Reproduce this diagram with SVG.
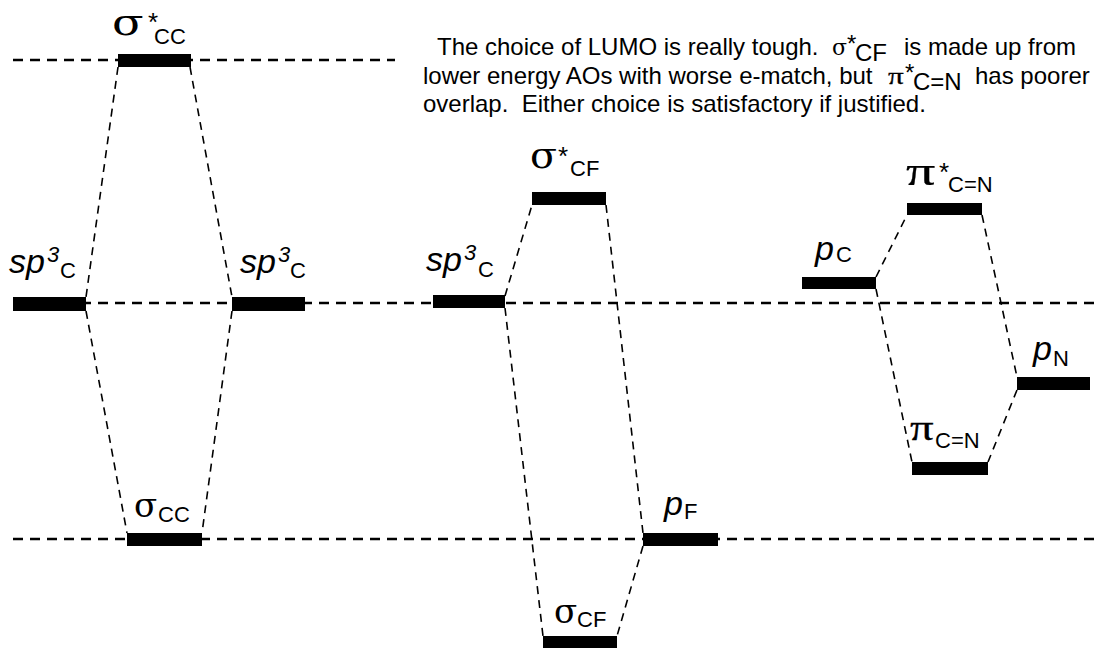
<svg xmlns="http://www.w3.org/2000/svg" width="1094" height="650" viewBox="0 0 1094 650">
<style>
.lvl{stroke:#000;stroke-width:2.5;stroke-dasharray:10 7;fill:none}
.con{stroke:#000;stroke-width:1.6;stroke-dasharray:8 6;fill:none}
.bar{fill:#000}
.t{font-family:"Liberation Sans",Arial,sans-serif;fill:#000}
.g{font-family:"DejaVu Serif","Liberation Serif",serif;fill:#000}
.pi{font-family:"Liberation Serif","Times New Roman",serif;fill:#000;stroke:#000;stroke-width:0.25}
.it{font-style:italic}
.para{font-family:"Liberation Sans",Arial,sans-serif;font-size:24px;fill:#000;white-space:pre}
</style>
<rect width="1094" height="650" fill="#fff"/>
<g id="levels">
<line class="lvl" x1="13" y1="60" x2="395" y2="60"/>
<line class="lvl" x1="13" y1="303" x2="1094" y2="303"/>
<line class="lvl" x1="13" y1="539" x2="1094" y2="539"/>
</g>
<g id="connectors">
<line class="con" x1="118" y1="67" x2="86" y2="297"/>
<line class="con" x1="190" y1="67" x2="232" y2="297"/>
<line class="con" x1="86" y1="311" x2="127" y2="533"/>
<line class="con" x1="232" y1="311" x2="202" y2="533"/>
<line class="con" x1="505" y1="296" x2="532" y2="205"/>
<line class="con" x1="505" y1="308" x2="543" y2="636"/>
<line class="con" x1="606" y1="205" x2="643" y2="533"/>
<line class="con" x1="643" y1="546" x2="617" y2="636"/>
<line class="con" x1="876" y1="277" x2="907" y2="215"/>
<line class="con" x1="876" y1="289" x2="912" y2="462"/>
<line class="con" x1="982" y1="215" x2="1017" y2="377"/>
<line class="con" x1="1017" y1="390" x2="988" y2="462"/>
</g>
<g id="sigma-star-CC">
<rect class="bar" x="118" y="54" width="73" height="13"/>
<text class="g" transform="translate(112,35) scale(1.22,1)" font-size="38">σ</text>
<text class="t" x="148" y="31" font-size="26">*</text>
<text class="t" x="154" y="44" font-size="22">CC</text>
</g>
<g id="sp3C-left">
<rect class="bar" x="13" y="297" width="73" height="14"/>
<text class="t it" x="9" y="273" font-size="34">sp</text>
<text class="t it" x="47" y="262" font-size="22">3</text>
<text class="t" x="60" y="278" font-size="22">C</text>
</g>
<g id="sp3C-right">
<rect class="bar" x="232" y="297" width="73" height="14"/>
<text class="t it" x="240" y="273" font-size="34">sp</text>
<text class="t it" x="278" y="262" font-size="22">3</text>
<text class="t" x="290" y="278" font-size="22">C</text>
</g>
<g id="sigma-CC">
<rect class="bar" x="127" y="533" width="75" height="13"/>
<text class="g" x="134" y="517" font-size="34">σ</text>
<text class="t" x="158" y="522" font-size="22">CC</text>
</g>
<g id="sigma-star-CF">
<rect class="bar" x="532" y="192" width="74" height="13"/>
<text class="g" transform="translate(530,168) scale(1.1,1)" font-size="36">σ</text>
<text class="t" x="558" y="165" font-size="26">*</text>
<text class="t" x="570" y="176" font-size="22">CF</text>
</g>
<g id="sp3C-mid">
<rect class="bar" x="433" y="295" width="72" height="13"/>
<text class="t it" x="426" y="271" font-size="34">sp</text>
<text class="t it" x="464" y="260" font-size="22">3</text>
<text class="t" x="478" y="277" font-size="22">C</text>
</g>
<g id="pF">
<rect class="bar" x="643" y="533" width="75" height="13"/>
<text class="t it" x="664" y="515" font-size="34">p</text>
<text class="t" x="684" y="519" font-size="22">F</text>
</g>
<g id="sigma-CF">
<rect class="bar" x="543" y="636" width="74" height="12"/>
<text class="g" x="554" y="623" font-size="34">σ</text>
<text class="t" x="577" y="627" font-size="22">CF</text>
</g>
<g id="pi-star-CN">
<rect class="bar" x="907" y="203" width="75" height="12"/>
<text class="pi" transform="translate(906,185) scale(1.45,1)" font-size="40">π</text>
<text class="t" x="939" y="181" font-size="26">*</text>
<text class="t" x="948" y="192" font-size="22">C=N</text>
</g>
<g id="pC">
<rect class="bar" x="802" y="277" width="74" height="12"/>
<text class="t it" x="815" y="260" font-size="34">p</text>
<text class="t" x="836" y="262" font-size="22">C</text>
</g>
<g id="pN">
<rect class="bar" x="1017" y="377" width="73" height="13"/>
<text class="t it" x="1033" y="360" font-size="34">p</text>
<text class="t" x="1053" y="366" font-size="22">N</text>
</g>
<g id="pi-CN">
<rect class="bar" x="912" y="462" width="76" height="13"/>
<text class="pi" transform="translate(910,440) scale(1.3,1)" font-size="36">π</text>
<text class="t" x="935" y="448" font-size="22">C=N</text>
</g>
<g id="note">
<text class="para" x="437" y="55">The choice of LUMO is really tough.</text>
<text class="g" x="832" y="55" font-size="22">σ</text>
<text class="para" x="847" y="52" font-size="18">*</text>
<text class="para" x="855" y="61" font-size="18">CF</text>
<text class="para" x="904" y="55">is made up from</text>
<text class="para" x="423" y="84">lower energy AOs with worse e-match, but</text>
<text class="pi" transform="translate(888,84) scale(1.3,1)" font-size="24" stroke-width="0.15">π</text>
<text class="para" x="905" y="81" font-size="18">*</text>
<text class="para" x="913" y="90" font-size="18">C=N</text>
<text class="para" x="975" y="84">has poorer</text>
<text class="para" x="423" y="112">overlap.  Either choice is satisfactory if justified.</text>
</g>
</svg>
